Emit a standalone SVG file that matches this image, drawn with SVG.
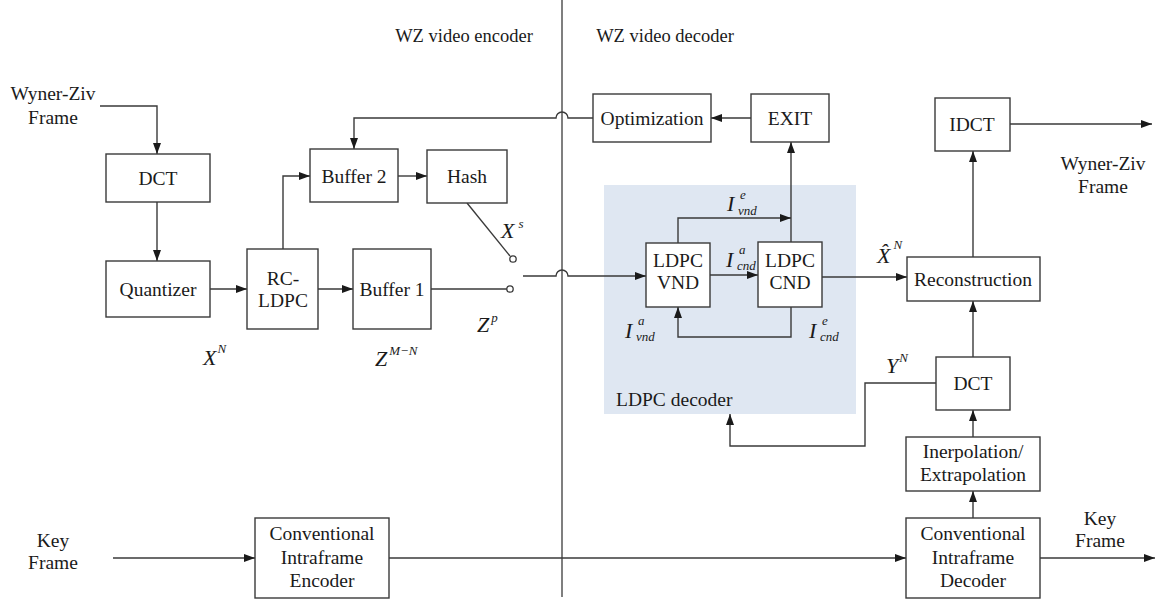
<svg xmlns="http://www.w3.org/2000/svg" width="1156" height="607" viewBox="0 0 1156 607" font-family="Liberation Serif, Times New Roman, serif">
<defs>
<marker id="ah" markerUnits="userSpaceOnUse" markerWidth="11" markerHeight="8" refX="11" refY="4" orient="auto">
<path d="M0,0 L11,4 L0,8 z" fill="#1a1a1a"/>
</marker>
<style>
.box{fill:#fff;stroke:#3a3a3a;stroke-width:1.4}
.t,.h,.m,.s{fill:#1a1a1a}
.t{font-size:19.5px;text-anchor:middle}
.h{font-size:18.5px;text-anchor:middle}
.m{font-style:italic;font-size:22px}
.s{font-style:italic;font-size:13px}
.c{fill:none;stroke:#3a3a3a;stroke-width:1.4}
.a{marker-end:url(#ah)}
</style>
</defs>
<rect width="1156" height="607" fill="#fff"/>

<g id="ldpc-decoder-region">
<rect x="604" y="185" width="252" height="229" fill="#dfe7f2"/>
<text x="616" y="406" font-family="Liberation Serif, serif" font-size="19.5" fill="#1a1a1a">LDPC decoder</text>
</g>

<g id="divider">
<line x1="562" y1="0" x2="562" y2="597" stroke="#555" stroke-width="1.5"/>
<text x="464" y="42" class="h" font-family="Liberation Serif, serif">WZ video encoder</text>
<text x="665" y="42" class="h" font-family="Liberation Serif, serif">WZ video decoder</text>
</g>

<g id="connectors">
<path class="c a" d="M100,106 H157 V154"/>
<path class="c a" d="M157,202 V261"/>
<path class="c a" d="M210,289 H247"/>
<path class="c a" d="M283,249 V176 H310"/>
<path class="c a" d="M318,289 H353"/>
<path class="c a" d="M398,176 H427"/>
<path class="c" d="M467,203 L510,256"/>
<path class="c" d="M431,289 H507"/>
<path class="c a" d="M523,276 H556 A6,6 0 0 1 568,276 H646"/>
<path class="c a" d="M593,118 H568 A6,6 0 0 0 556,118 H354 V149"/>
<path class="c a" d="M751,118 H711"/>
<path class="c a" d="M791,242 V142"/>
<path class="c a" d="M678,243 V218 H791"/>
<path class="c a" d="M710,275 H758"/>
<path class="c a" d="M791,307 V337 H678 V307"/>
<path class="c a" d="M822,277 H907"/>
<path class="c a" d="M973,257 V151"/>
<path class="c a" d="M1010,124 H1152"/>
<path class="c a" d="M973,357 V301"/>
<path class="c a" d="M973,437 V410"/>
<path class="c a" d="M973,518 V491"/>
<path class="c a" d="M936,383 H865 V446 H730 V414"/>
<path class="c a" d="M113,558 H255"/>
<path class="c a" d="M389,558 H906"/>
<path class="c a" d="M1040,558 H1155"/>
<circle cx="513" cy="259" r="3.2" fill="#fff" stroke="#3a3a3a" stroke-width="1.3"/>
<circle cx="510" cy="289" r="3.2" fill="#fff" stroke="#3a3a3a" stroke-width="1.3"/>
</g>

<g font-family="Liberation Serif, serif">
<g id="wz-frame-in">
<text x="53" y="100" class="t">Wyner-Ziv</text>
<text x="53" y="124" class="t">Frame</text>
</g>
<g id="dct-enc"><rect class="box" x="106" y="154" width="104" height="48"/><text x="158" y="185" class="t">DCT</text></g>
<g id="quantizer"><rect class="box" x="106" y="261" width="104" height="56"/><text x="158" y="296" class="t">Quantizer</text></g>
<g id="rc-ldpc"><rect class="box" x="247" y="249" width="71" height="80"/><text x="283" y="285" class="t">RC-</text><text x="283" y="307" class="t">LDPC</text></g>
<g id="buffer2"><rect class="box" x="310" y="149" width="88" height="53"/><text x="354" y="183" class="t">Buffer 2</text></g>
<g id="hash"><rect class="box" x="427" y="150" width="80" height="53"/><text x="467" y="183" class="t">Hash</text></g>
<g id="buffer1"><rect class="box" x="353" y="249" width="78" height="80"/><text x="392" y="296" class="t">Buffer 1</text></g>
<g id="optimization"><rect class="box" x="593" y="94" width="118" height="48"/><text x="652" y="125" class="t">Optimization</text></g>
<g id="exit"><rect class="box" x="751" y="94" width="78" height="48"/><text x="790" y="125" class="t">EXIT</text></g>
<g id="ldpc-vnd"><rect class="box" x="646" y="243" width="64" height="64"/><text x="678" y="267" class="t">LDPC</text><text x="678" y="289" class="t">VND</text></g>
<g id="ldpc-cnd"><rect class="box" x="758" y="242" width="64" height="65"/><text x="790" y="267" class="t">LDPC</text><text x="790" y="289" class="t">CND</text></g>
<g id="idct"><rect class="box" x="935" y="98" width="75" height="53"/><text x="972" y="131" class="t">IDCT</text></g>
<g id="wz-frame-out"><text x="1103" y="170" class="t">Wyner-Ziv</text><text x="1103" y="193" class="t">Frame</text></g>
<g id="reconstruction"><rect class="box" x="907" y="257" width="133" height="44"/><text x="973" y="286" class="t">Reconstruction</text></g>
<g id="dct-dec"><rect class="box" x="936" y="357" width="74" height="53"/><text x="973" y="390" class="t">DCT</text></g>
<g id="interp"><rect class="box" x="906" y="437" width="134" height="54"/><text x="973" y="458" class="t">Inerpolation/</text><text x="973" y="481" class="t">Extrapolation</text></g>
<g id="intra-dec"><rect class="box" x="906" y="518" width="134" height="80"/><text x="973" y="540" class="t">Conventional</text><text x="973" y="564" class="t">Intraframe</text><text x="973" y="587" class="t">Decoder</text></g>
<g id="intra-enc"><rect class="box" x="255" y="518" width="134" height="80"/><text x="322" y="540" class="t">Conventional</text><text x="322" y="564" class="t">Intraframe</text><text x="322" y="587" class="t">Encoder</text></g>
<g id="key-in"><text x="53" y="547" class="t">Key</text><text x="53" y="569" class="t">Frame</text></g>
<g id="key-out"><text x="1100" y="525" class="t">Key</text><text x="1100" y="547" class="t">Frame</text></g>

<g id="labels">
<text x="203" y="365" class="m">X<tspan class="s" dy="-12" dx="1">N</tspan></text>
<text x="375" y="366" class="m">Z<tspan class="s" dy="-11" dx="2">M−N</tspan></text>
<text x="477" y="332" class="m">Z<tspan class="s" dy="-10" dx="2">p</tspan></text>
<text x="501" y="238" class="m">X<tspan class="s" dy="-10" dx="4">s</tspan></text>
<text x="877" y="263" class="m">X̂<tspan class="s" dy="-14" dx="3">N</tspan></text>
<text x="886" y="373" class="m">Y<tspan class="s" dy="-11" dx="1">N</tspan></text>
<text x="727" y="211" class="m">I</text><text x="740" y="199" class="s">e</text><text x="738" y="215" class="s">vnd</text>
<text x="726" y="267" class="m">I</text><text x="739" y="254" class="s">a</text><text x="737" y="270" class="s">cnd</text>
<text x="625" y="338" class="m">I</text><text x="638" y="325" class="s">a</text><text x="636" y="341" class="s">vnd</text>
<text x="809" y="338" class="m">I</text><text x="822" y="325" class="s">e</text><text x="820" y="341" class="s">cnd</text>
</g>
</g>
</svg>
